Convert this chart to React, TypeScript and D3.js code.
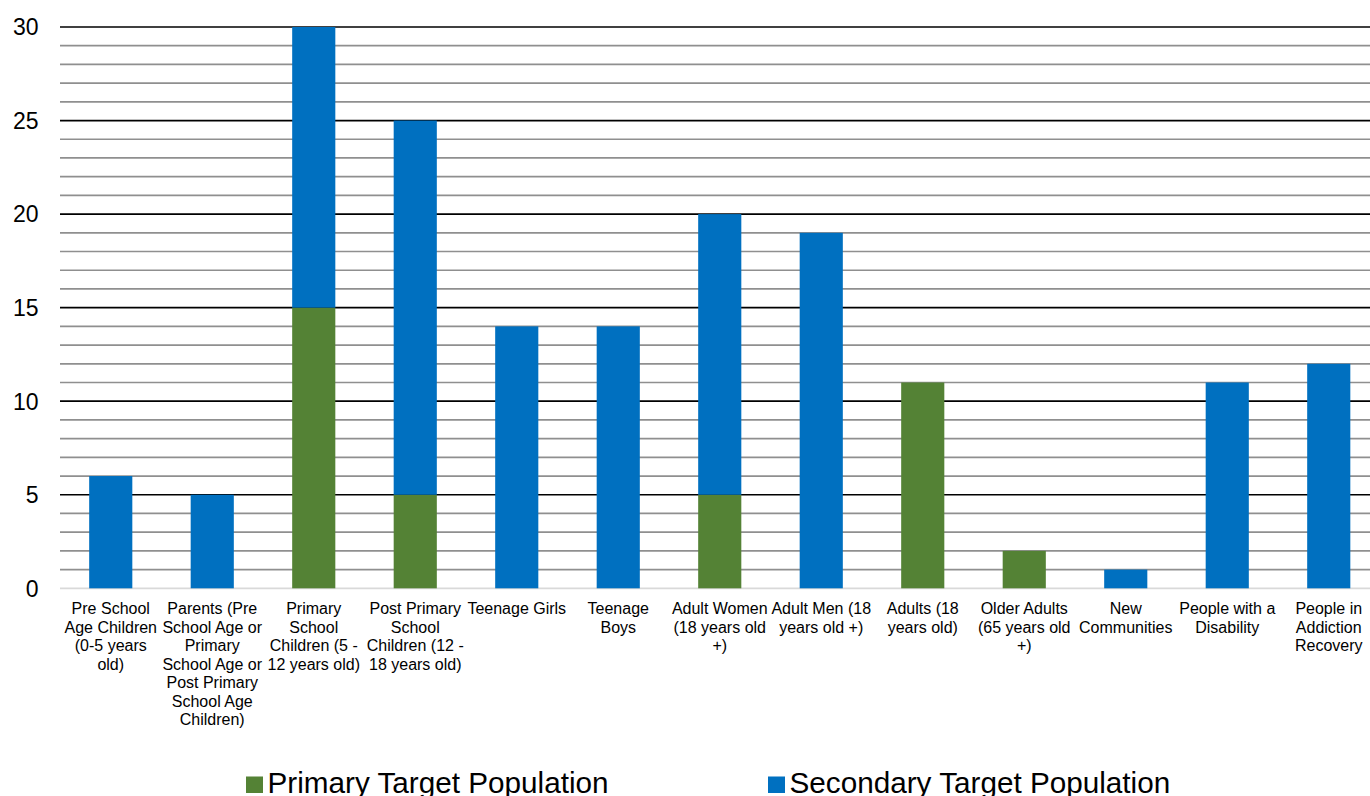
import React from "react";
import * as d3 from "d3";

const categories: string[] = [
  "Pre School\nAge Children\n(0-5 years\nold)",
  "Parents (Pre\nSchool Age or\nPrimary\nSchool Age or\nPost Primary\nSchool Age\nChildren)",
  "Primary\nSchool\nChildren (5 -\n12 years old)",
  "Post Primary\nSchool\nChildren (12 -\n18 years old)",
  "Teenage Girls",
  "Teenage\nBoys",
  "Adult Women\n(18 years old\n+)",
  "Adult Men (18\nyears old +)",
  "Adults (18\nyears old)",
  "Older Adults\n(65 years old\n+)",
  "New\nCommunities",
  "People with a\nDisability",
  "People in\nAddiction\nRecovery",
];
const primary: number[] = [0, 0, 15, 5, 0, 0, 5, 0, 11, 2, 0, 0, 0];
const secondary: number[] = [6, 5, 15, 20, 14, 14, 15, 19, 0, 0, 1, 11, 12];
const seriesNames: string[] = ["Primary Target Population", "Secondary Target Population"];
const yTicks: number[] = [0, 5, 10, 15, 20, 25, 30];

const W = 1370;
const H = 796;
const GREEN = "#548235";
const BLUE = "#0070C0";
const FONT = "'Liberation Sans', Arial, sans-serif";

export default function App() {
  const x = d3.scaleBand<number>().domain(d3.range(categories.length)).range([60, 1379.5]).paddingInner(0.575).paddingOuter(0.2875);
  const y = d3.scaleLinear().domain([0, 30]).range([588.3, 27]);

  const rows = categories.map((c, i) => ({ i, primary: primary[i], secondary: secondary[i] }));
  const stacked = d3.stack<any>().keys(["primary", "secondary"])(rows);
  const colors = [GREEN, BLUE];
  const minor = d3.range(1, 31).filter((v) => v % 5 !== 0);

  return (
    <svg width={W} height={H} style={{ position: "absolute", left: 0, top: 0, background: "#fff" }}>
      <rect x={0} y={0} width={W} height={H} fill="#fff" />
      {minor.map((v) => (
        <line key={"m" + v} x1={60} x2={W} y1={y(v)} y2={y(v)} stroke="#8f8f8f" strokeWidth={1.7} />
      ))}
      {yTicks.filter((v) => v !== 0).map((v) => (
        <line key={"M" + v} x1={60} x2={W} y1={y(v)} y2={y(v)} stroke="#000" strokeWidth={1.7} />
      ))}
      <line x1={60} x2={W} y1={y(0)} y2={y(0)} stroke="#d9d9d9" strokeWidth={1.7} />
      {yTicks.map((v) => (
        <text key={"t" + v} x={38.5} y={y(v) + 8.3} textAnchor="end" fontFamily={FONT} fontSize={23} fill="#000">
          {v}
        </text>
      ))}
      {stacked.map((s, si) =>
        s.map((d, i) =>
          d[1] - d[0] > 0 ? (
            <rect
              key={si + "-" + i}
              x={x(i)!}
              y={y(d[1])}
              width={x.bandwidth()}
              height={y(d[0]) - y(d[1])}
              fill={colors[si]}
            />
          ) : null
        )
      )}
      {categories.map((c, i) => (
        <text key={"c" + i} textAnchor="middle" fontFamily={FONT} fontSize={16} fill="#000">
          {c.split("\n").map((ln, k) => (
            <tspan key={k} x={x(i)! + x.bandwidth() / 2} y={614 + k * 18.5}>
              {ln}
            </tspan>
          ))}
        </text>
      ))}
      {seriesNames.map((n, si) => {
        const lx = si === 0 ? 246 : 768;
        return (
          <g key={"l" + si}>
            <rect x={lx} y={776.5} width={17} height={16.5} fill={colors[si]} />
            <text x={lx + 21.5} y={793} fontFamily={FONT} fontSize={29.7} fill="#000">
              {n}
            </text>
          </g>
        );
      })}
    </svg>
  );
}
